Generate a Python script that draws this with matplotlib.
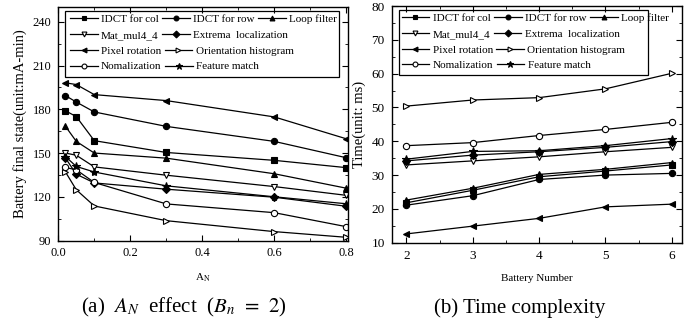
#! /usr/bin/env python3

import matplotlib
matplotlib.use("Agg")
import matplotlib.pyplot as plt
from matplotlib.legend import Legend
from matplotlib.lines import Line2D
from matplotlib.patches import Rectangle
from matplotlib.ticker import MultipleLocator

plt.rcParams["font.family"] = ["Liberation Serif", "DejaVu Serif"]
plt.rcParams["mathtext.fontset"] = "stix"

names = ["IDCT for col", "IDCT for row", "Loop filter", "Mat_mul4_4",
         "Extrema  localization", "Pixel rotation", "Orientation histogram",
         "Nomalization", "Feature match"]
markers = ["s", "o", "^", "v", "D", "<", ">", "o", "*"]
filled = [True, True, True, False, True, True, False, False, True]

# (a) A_N effect
an = [0.02, 0.05, 0.1, 0.3, 0.6, 0.8]
battery = [
    [179.0, 175.0, 158.5, 150.4, 145.0, 140.0],   # IDCT for col
    [189.4, 185.0, 178.2, 168.3, 158.0, 146.8],   # IDCT for row
    [168.3, 158.0, 150.0, 146.5, 135.8, 125.9],   # Loop filter
    [150.0, 148.5, 140.5, 134.8, 127.0, 121.0],   # Mat_mul4_4
    [146.5, 135.5, 129.5, 125.2, 119.7, 113.5],   # Extrema localization
    [198.2, 197.0, 190.1, 186.0, 174.8, 159.8],   # Pixel rotation
    [137.0, 124.8, 113.7, 103.6, 96.1, 92.2],     # Orientation histogram
    [140.1, 138.5, 129.8, 115.1, 109.1, 99.5],    # Nomalization
    [147.6, 140.8, 137.0, 127.5, 120.0, 115.2],   # Feature match
]

# (b) time complexity
bn = [2, 3, 4, 5, 6]
times = [
    [21.8, 25.5, 29.5, 31.2, 33.0],   # IDCT for col
    [21.1, 23.9, 28.7, 30.0, 30.5],   # IDCT for row
    [22.6, 26.1, 30.2, 31.7, 33.7],   # Loop filter
    [33.0, 34.2, 35.4, 36.9, 38.2],   # Mat_mul4_4
    [34.2, 35.9, 36.9, 38.2, 39.9],   # Extrema localization
    [12.6, 14.9, 17.2, 20.6, 21.4],   # Pixel rotation
    [50.4, 52.2, 52.9, 55.5, 60.1],   # Orientation histogram
    [38.7, 39.6, 41.7, 43.5, 45.6],   # Nomalization
    [34.7, 37.0, 37.2, 38.7, 40.8],   # Feature match
]

legend_rows = [[0, 1, 2], [3, 4], [5, 6], [7, 8]]


def style(i):
    return dict(color="black", marker=markers[i], lw=0.9,
                ms=6 if markers[i] == "*" else 4.5,
                mfc="black" if filled[i] else "white", mec="black", mew=0.8)


def legend_box(ax, x0, ytop, dy, frame):
    # one legend per row so the entries flow like the original
    for r, row in enumerate(legend_rows):
        h = [Line2D([], [], **dict(style(i), ms=3.5 if markers[i] != "*" else 5))
             for i in row]
        leg = Legend(ax, h, [names[i] for i in row], ncol=len(row), loc="upper left",
                     bbox_to_anchor=(x0, ytop - r * dy), frameon=False,
                     fontsize=8, handlelength=2.5, handletextpad=0.3,
                     columnspacing=0.3, borderpad=0, borderaxespad=0)
        ax.add_artist(leg)
    ax.add_patch(Rectangle(frame[:2], frame[2], frame[3], transform=ax.transAxes,
                           fill=False, ec="black", lw=0.9, zorder=5))


def ticks(ax, size):
    ax.tick_params(which="both", direction="in", top=True, right=True, labelsize=size)
    ax.tick_params(which="major", length=4, pad=5)
    ax.tick_params(which="minor", length=2.5)
    for s in ax.spines.values():
        s.set_linewidth(1.0)


fig = plt.figure(figsize=(6.99, 3.25), dpi=100)

ax1 = fig.add_axes([0.0834, 0.26, 0.4145, 0.7175])
for i in range(len(names)):
    ax1.plot(an, battery[i], **style(i))
ax1.set_xlim(0, 0.805)
ax1.set_ylim(90, 250)
ax1.set_xticks([0.0, 0.2, 0.4, 0.6, 0.8])
ax1.set_yticks([90, 120, 150, 180, 210, 240])
ax1.xaxis.set_minor_locator(MultipleLocator(0.1))
ax1.yaxis.set_minor_locator(MultipleLocator(15))
ticks(ax1, 9)
ax1.set_xlabel(r"A$_{\mathrm{N}}$", fontsize=8, labelpad=9)
ax1.set_ylabel("Battery final state(unit:mA-min)", fontsize=10.5, labelpad=4)
legend_box(ax1, 0.040, 0.969, 0.0673, (0.023, 0.701, 0.947, 0.283))

ax2 = fig.add_axes([0.5604, 0.2532, 0.4149, 0.7283])
for i in range(len(names)):
    ax2.plot(bn, times[i], **style(i))
ax2.set_xlim(1.78, 6.15)
ax2.set_ylim(10, 80)
ax2.set_xticks(bn)
ax2.set_yticks(range(10, 81, 10))
ax2.xaxis.set_minor_locator(MultipleLocator(0.5))
ax2.yaxis.set_minor_locator(MultipleLocator(5))
ticks(ax2, 9.5)
ax2.set_xlabel("Battery Number", fontsize=8, labelpad=9)
ax2.set_ylabel("Time(unit: ms)", fontsize=10.5, labelpad=4)
legend_box(ax2, 0.034, 0.968, 0.066, (0.026, 0.708, 0.858, 0.275))

fig.text(0.2625, 0.037, r"(a)  $A_N$  effect  ($B_n\;\,=\;\,2$)", fontsize=15, ha="center")
fig.text(0.744, 0.037, "(b) Time complexity", fontsize=15, ha="center")

fig.savefig("out.png", dpi=100)
